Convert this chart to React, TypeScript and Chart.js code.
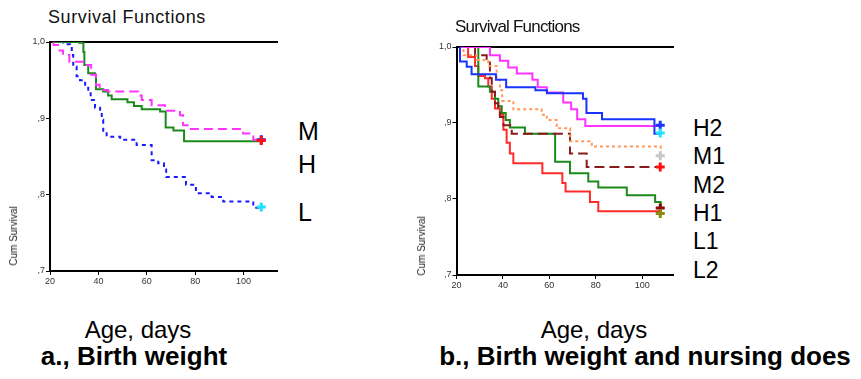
import React, { useEffect, useRef } from "react";
import { Chart, registerables } from "chart.js";
Chart.register(...registerables);

const FONT = "'Liberation Sans', Arial, Helvetica, sans-serif";

// ---------- shared axis ticks ----------
const xTickValues = [20, 40, 60, 80, 100];
const yTickValues = [0.7, 0.8, 0.9, 1.0];
const yTickLabels = [",7", ",8", ",9", "1,0"];

// ---------- Panel a: Birth weight ----------
const aLabels = ["M", "H", "L"];
const aMDays = [21.2, 21.5, 23.3, 25.4, 28, 35, 37, 39, 40.5, 44, 56.4, 57.9, 62, 67.5, 73.7, 75, 77.8, 99.8, 104, 107.2];
const aMSurv = [1.0, 0.996, 0.989, 0.983, 0.974, 0.97, 0.957, 0.944, 0.937, 0.935, 0.93, 0.924, 0.917, 0.91, 0.904, 0.891, 0.886, 0.88, 0.872, 0.872];
const aHDays = [21.2, 32.1, 33.8, 34.2, 35.8, 38.6, 39, 42, 44, 45.5, 52, 54.7, 57.9, 65.5, 67.8, 71, 75.4, 107.2];
const aHSurv = [1.0, 0.999, 0.987, 0.97, 0.959, 0.957, 0.938, 0.935, 0.93, 0.925, 0.921, 0.916, 0.912, 0.909, 0.888, 0.884, 0.87, 0.87];
const aLDays = [21.2, 25.5, 28.3, 29, 29.6, 31, 32.4, 34.5, 35.8, 36.8, 38.6, 40.7, 41.4, 42, 43.4, 49, 55.8, 62, 64.7, 67.1, 68, 76.2, 80.3, 86.8, 91.6, 104, 107.2];
const aLSurv = [1.0, 0.997, 0.992, 0.983, 0.968, 0.955, 0.95, 0.944, 0.935, 0.924, 0.914, 0.907, 0.898, 0.882, 0.876, 0.872, 0.865, 0.845, 0.841, 0.833, 0.823, 0.813, 0.802, 0.797, 0.791, 0.783, 0.783];
const aMarkDays = [107.3, 107.3, 107.3];
const aMarkSurv = [0.872, 0.871, 0.784];
const aMarkColors = ["#1a1aff", "#ff1010", "#22e0ff"];

// ---------- Panel b: Birth weight and nursing does ----------
const bLabels = ["H2", "M1", "M2", "H1", "L1", "L2"];
const bH2Days = [21.3, 21.5, 24.4, 26.5, 37, 41.4, 54, 59, 74.5, 76, 82.7, 105.3, 107.7];
const bH2Surv = [1.0, 0.981, 0.974, 0.964, 0.957, 0.947, 0.943, 0.939, 0.932, 0.913, 0.905, 0.886, 0.886];
const bM1Days = [21.3, 34.4, 38.7, 42.3, 46, 52.7, 55, 58.9, 66, 69.4, 72, 75.5, 107.7];
const bM1Surv = [1.0, 0.989, 0.982, 0.973, 0.965, 0.957, 0.947, 0.94, 0.927, 0.918, 0.905, 0.896, 0.896];
const bOrDays = [21.3, 23, 28.7, 33.7, 37.3, 38.7, 39.7, 44.5, 56.7, 58.9, 63.2, 69, 78.3, 107.9, 108];
const bOrSurv = [1.0, 0.989, 0.983, 0.975, 0.957, 0.943, 0.929, 0.918, 0.911, 0.904, 0.893, 0.876, 0.869, 0.869, 0.858];
const bM2Days = [21.3, 28, 33, 34.4, 35.2, 36.6, 38, 38.7, 40.2, 43.8, 68.9, 76.1, 108];
const bM2Surv = [1.0, 0.989, 0.981, 0.959, 0.941, 0.926, 0.919, 0.908, 0.897, 0.886, 0.86, 0.842, 0.842];
const bH1Days = [21.3, 29.4, 34.4, 36.6, 38, 39.5, 41.2, 43, 49.5, 62.5, 68.9, 76.8, 81.1, 93.4, 105.6, 107.9, 108];
const bH1Surv = [1.0, 0.948, 0.941, 0.932, 0.922, 0.913, 0.904, 0.894, 0.886, 0.849, 0.834, 0.823, 0.815, 0.805, 0.796, 0.796, 0.789];
const bL1Days = [21.3, 25, 28, 29.4, 32.3, 33.7, 35.2, 36.6, 38.7, 40.2, 41.6, 43, 44.5, 57, 65.6, 67, 77.5, 81.1, 108];
const bL1Surv = [1.0, 0.987, 0.975, 0.962, 0.959, 0.948, 0.932, 0.919, 0.911, 0.891, 0.874, 0.86, 0.847, 0.834, 0.821, 0.81, 0.796, 0.784, 0.784];
const bMarkDays = [107.8, 107.8, 107.8, 107.8, 107.8, 107.8];
const bMarkSurv = [0.897, 0.887, 0.857, 0.842, 0.788, 0.781];
const bMarkColors = ["#1a33ff", "#22e0ff", "#c8c8c8", "#ff1010", "#8b0a0a", "#8a8a10"];

type Series = { days: number[]; surv: number[]; color: string; dash: number[] };
type Panel = {
  series: Series[];
  markDays: number[];
  markSurv: number[];
  markColors: string[];
  xMax: number;
  yAxisWidth: number;
  xAxisHeight: number;
  padTop: number;
  padRight: number;
};

const panelA: Panel = {
  series: [
    { days: aMDays, surv: aMSurv, color: "#ff33ff", dash: [9, 5] },
    { days: aHDays, surv: aHSurv, color: "#1a8a1a", dash: [] },
    { days: aLDays, surv: aLSurv, color: "#1a1aff", dash: [4, 4] },
  ],
  markDays: aMarkDays,
  markSurv: aMarkSurv,
  markColors: aMarkColors,
  xMax: 113.8,
  yAxisWidth: 50,
  xAxisHeight: 34,
  padTop: 12,
  padRight: 13,
};

const panelB: Panel = {
  series: [
    { days: bH2Days, surv: bH2Surv, color: "#1a33ff", dash: [] },
    { days: bM1Days, surv: bM1Surv, color: "#ff33ff", dash: [] },
    { days: bOrDays, surv: bOrSurv, color: "#ff9955", dash: [3, 3] },
    { days: bM2Days, surv: bM2Surv, color: "#8b1a1a", dash: [10, 5] },
    { days: bH1Days, surv: bH1Surv, color: "#1a8a1a", dash: [] },
    { days: bL1Days, surv: bL1Surv, color: "#ff2a2a", dash: [] },
  ],
  markDays: bMarkDays,
  markSurv: bMarkSurv,
  markColors: bMarkColors,
  xMax: 113.3,
  yAxisWidth: 46.5,
  xAxisHeight: 35,
  padTop: 12,
  padRight: 17,
};

function pts(days: number[], surv: number[]) {
  return days.map((d, i) => ({ x: d, y: surv[i] }));
}

function buildConfig(p: Panel): any {
  const datasets: any[] = [];
  datasets.push({
    type: "line",
    data: pts(p.markDays, p.markSurv),
    showLine: false,
    pointStyle: "crossRot",
    pointRadius: 0,
    borderWidth: 0,
  });
  datasets.push({
    type: "line",
    data: pts(p.markDays, p.markSurv),
    showLine: false,
    pointStyle: "cross",
    pointRadius: 4.5,
    pointBorderWidth: 3,
    pointBorderColor: p.markColors,
    pointBackgroundColor: p.markColors,
  });
  p.series.forEach((s) => {
    datasets.push({
      type: "line",
      data: pts(s.days, s.surv),
      borderColor: s.color,
      borderWidth: 2,
      borderDash: s.dash,
      stepped: true,
      pointRadius: 0,
      fill: false,
      tension: 0,
    });
  });
  const tickFont = { size: 9, family: FONT };
  return {
    type: "line",
    data: { datasets },
    options: {
      animation: false,
      responsive: false,
      events: [],
      plugins: { legend: { display: false }, tooltip: { enabled: false } },
      layout: { padding: { top: p.padTop, right: p.padRight, left: 0, bottom: 0 } },
      scales: {
        x: {
          type: "linear",
          position: "bottom",
          min: 20,
          max: p.xMax,
          afterBuildTicks: (ax: any) => {
            ax.ticks = xTickValues.map((v) => ({ value: v }));
          },
          afterFit: (ax: any) => {
            ax.height = p.xAxisHeight;
          },
          grid: { display: true, drawOnChartArea: false, drawTicks: true, tickLength: 4, color: "#000", tickColor: "#000", lineWidth: 1 },
          border: { display: true, color: "#000", width: 2 },
          ticks: { font: tickFont, color: "#333", padding: 1, maxRotation: 0, autoSkip: false, callback: (v: any) => String(v) },
        },
        x2: {
          type: "linear",
          position: "top",
          min: 0,
          max: 1,
          display: true,
          ticks: { display: false },
          grid: { display: false, drawTicks: false },
          border: { display: true, color: "#000", width: 2 },
          afterFit: (ax: any) => {
            ax.height = 0;
          },
        },
        y: {
          type: "linear",
          position: "left",
          min: 0.7,
          max: 1.0,
          afterBuildTicks: (ax: any) => {
            ax.ticks = yTickValues.map((v) => ({ value: v }));
          },
          afterFit: (ax: any) => {
            ax.width = p.yAxisWidth;
          },
          grid: { display: true, drawOnChartArea: false, drawTicks: true, tickLength: 4, color: "#000", tickColor: "#000", lineWidth: 1 },
          border: { display: true, color: "#000", width: 2 },
          ticks: {
            font: tickFont,
            color: "#333",
            padding: 1,
            autoSkip: false,
            callback: (v: any) => {
              const i = yTickValues.findIndex((t) => Math.abs(t - v) < 1e-6);
              return i >= 0 ? yTickLabels[i] : "";
            },
          },
        },
      },
    },
  };
}

const abs = (left: number, top: number, extra: any = {}): any => ({
  position: "absolute",
  left,
  top,
  lineHeight: 1,
  whiteSpace: "nowrap",
  ...extra,
});

export default function App() {
  const leftRef = useRef<HTMLCanvasElement>(null);
  const rightRef = useRef<HTMLCanvasElement>(null);

  useEffect(() => {
    const c1 = new Chart(leftRef.current as HTMLCanvasElement, buildConfig(panelA));
    const c2 = new Chart(rightRef.current as HTMLCanvasElement, buildConfig(panelB));
    return () => {
      c1.destroy();
      c2.destroy();
    };
  }, []);

  const aLabelTops = [119, 152, 200];
  const bLabelTops = [117, 145, 174, 202, 230, 259];

  return (
    <div
      style={{
        position: "absolute",
        left: 0,
        top: 0,
        width: 861,
        height: 379,
        background: "#fff",
        fontFamily: FONT,
        color: "#000",
        overflow: "hidden",
      }}
    >
      <canvas
        ref={leftRef}
        width={290}
        height={275}
        style={{ position: "absolute", left: 0, top: 30, width: 290, height: 275, display: "block" }}
      />
      <canvas
        ref={rightRef}
        width={280}
        height={275}
        style={{ position: "absolute", left: 410, top: 35, width: 280, height: 275, display: "block" }}
      />

      <div style={abs(48, 8, { fontSize: 18, letterSpacing: 0.6, color: "#111" })}>Survival Functions</div>
      <div style={abs(455, 18, { fontSize: 17, letterSpacing: -0.8, color: "#111" })}>Survival Functions</div>

      <div style={abs(14, 236, { fontSize: 10, color: "#222", transform: "translate(-50%,-50%) rotate(-90deg)" })}>Cum Survival</div>
      <div style={abs(422, 246, { fontSize: 10, color: "#222", transform: "translate(-50%,-50%) rotate(-90deg)" })}>Cum Survival</div>

      {aLabels.map((t, i) => (
        <div key={t} style={abs(298, aLabelTops[i], { fontSize: 25 })}>
          {t}
        </div>
      ))}
      {bLabels.map((t, i) => (
        <div key={t} style={abs(693, bLabelTops[i], { fontSize: 23 })}>
          {t}
        </div>
      ))}

      <div style={abs(38, 318, { fontSize: 24, width: 200, textAlign: "center" })}>Age, days</div>
      <div style={abs(494, 318, { fontSize: 24, width: 200, textAlign: "center" })}>Age, days</div>
      <div style={abs(-16, 343, { fontSize: 26, fontWeight: "bold", width: 300, textAlign: "center" })}>a., Birth weight</div>
      <div style={abs(405, 343, { fontSize: 26, fontWeight: "bold", width: 480, textAlign: "center" })}>
        b., Birth weight and nursing does
      </div>
    </div>
  );
}
